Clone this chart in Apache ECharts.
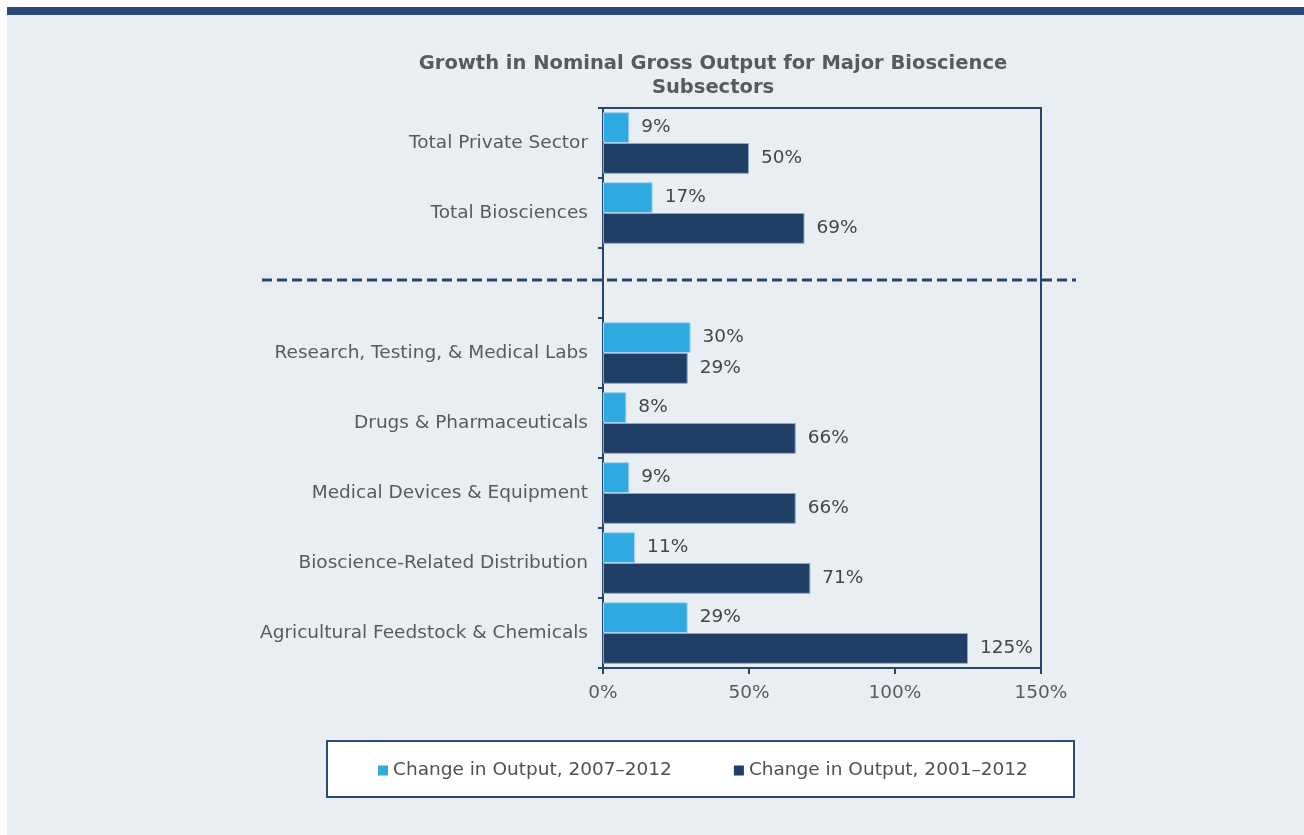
<!DOCTYPE html>
<html>
<head>
<meta charset="utf-8">
<script src="https://cdn.jsdelivr.net/npm/echarts@6/dist/echarts.min.js"></script>
<style>
  html, body { margin: 0; padding: 0; background: #ffffff; }
  #chart { width: 1304px; height: 835px; }
</style>
</head>
<body>
<div id="chart"></div>
<script>
// Subsector rows, top to bottom; the empty entry leaves room for the separator
const categories = [
  'Total Private Sector',
  'Total Biosciences',
  '',
  'Research, Testing, & Medical Labs',
  'Drugs & Pharmaceuticals',
  'Medical Devices & Equipment',
  'Bioscience-Related Distribution',
  'Agricultural Feedstock & Chemicals'
];
// Percent change in output
const change2007to2012 = [9, 17, '-', 30, 8, 9, 11, 29];
const change2001to2012 = [50, 69, '-', 29, 66, 66, 71, 125];
const seriesNames = ['Change in Output, 2007\u20132012', 'Change in Output, 2001\u20132012'];
const xTicks = { min: 0, max: 150, interval: 50 };

const FONT = '"DejaVu Sans", Verdana, sans-serif';
const NAVY = '#1f3f66';
const SKY = '#2eaae1';
const AXIS = '#24466f';
const TEXT = '#5a5a5a';
const FS = 18.5;

const chart = echarts.init(document.getElementById('chart'));

const barLabel = {
  show: true,
  position: 'right',
  distance: 12,
  fontFamily: FONT,
  fontSize: FS,
  color: '#454545',
  formatter: p => p.value + '%'
};

chart.setOption({
  backgroundColor: '#ffffff',
  animation: false,
  title: {
    text: 'Growth in Nominal Gross Output for Major Bioscience\nSubsectors',
    left: 708,
    top: 47,
    textAlign: 'center',
    textStyle: {
      fontFamily: FONT,
      fontSize: 19.5,
      fontWeight: 'bold',
      color: TEXT,
      lineHeight: 24
    }
  },
  legend: {
    top: 756,
    left: 373,
    itemWidth: 10,
    itemHeight: 10,
    itemGap: 62,
    icon: 'rect',
    itemStyle: { borderWidth: 0 },
    textStyle: { fontFamily: FONT, fontSize: FS, color: '#505050', padding: [0, 0, 0, 0] },
    data: seriesNames
  },
  grid: {
    left: 603,
    right: 263,
    top: 108,
    bottom: 167,
    show: true,
    borderColor: AXIS,
    borderWidth: 2,
    containLabel: false
  },
  xAxis: {
    type: 'value',
    min: xTicks.min,
    max: xTicks.max,
    interval: xTicks.interval,
    axisLine: { show: true, lineStyle: { color: AXIS, width: 2 } },
    axisTick: { show: true, length: 6, lineStyle: { color: AXIS, width: 2 } },
    splitLine: { show: false },
    axisLabel: {
      fontFamily: FONT,
      fontSize: FS,
      color: TEXT,
      margin: 16,
      formatter: '{value}%'
    }
  },
  yAxis: {
    type: 'category',
    inverse: true,
    data: categories,
    axisLine: { show: true, lineStyle: { color: AXIS, width: 2 } },
    axisTick: { show: true, length: 5, lineStyle: { color: AXIS, width: 2 } },
    axisLabel: {
      fontFamily: FONT,
      fontSize: FS,
      color: TEXT,
      margin: 15
    }
  },
  series: [
    {
      name: seriesNames[0],
      type: 'bar',
      data: change2007to2012,
      barGap: '0%',
      barCategoryGap: '12%',
      itemStyle: { color: SKY, borderColor: '#a9d3ee', borderWidth: 1 },
      label: barLabel,
      z: 3
    },
    {
      name: seriesNames[1],
      type: 'bar',
      data: change2001to2012,
      barGap: '0%',
      barCategoryGap: '12%',
      itemStyle: { color: NAVY, borderColor: '#8fa6c2', borderWidth: 1 },
      label: barLabel,
      z: 3
    }
  ]
});

// Panel background, header stripe, separator and legend frame
function drawDecor() {
  const sepY = chart.convertToPixel({ yAxisIndex: 0 }, '') - 3;
  chart.setOption({
    graphic: [
      {
        type: 'rect', z: -10, silent: true,
        shape: { x: 7, y: 7, width: 1297, height: 828 },
        style: { fill: '#e8eef2' }
      },
      {
        type: 'rect', z: 10, silent: true,
        shape: { x: 7, y: 7, width: 1297, height: 8 },
        style: { fill: '#2b4a78' }
      },
      {
        type: 'line', z: 10, silent: true,
        shape: { x1: 262, y1: sepY, x2: 1076, y2: sepY },
        style: { stroke: AXIS, lineWidth: 3, lineDash: [10, 5] }
      },
      {
        type: 'rect', z: -5, silent: true,
        shape: { x: 327, y: 741, width: 747, height: 56 },
        style: { fill: '#ffffff', stroke: '#2b4a78', lineWidth: 2 }
      }
    ]
  });
}
drawDecor();
</script>
</body>
</html>
